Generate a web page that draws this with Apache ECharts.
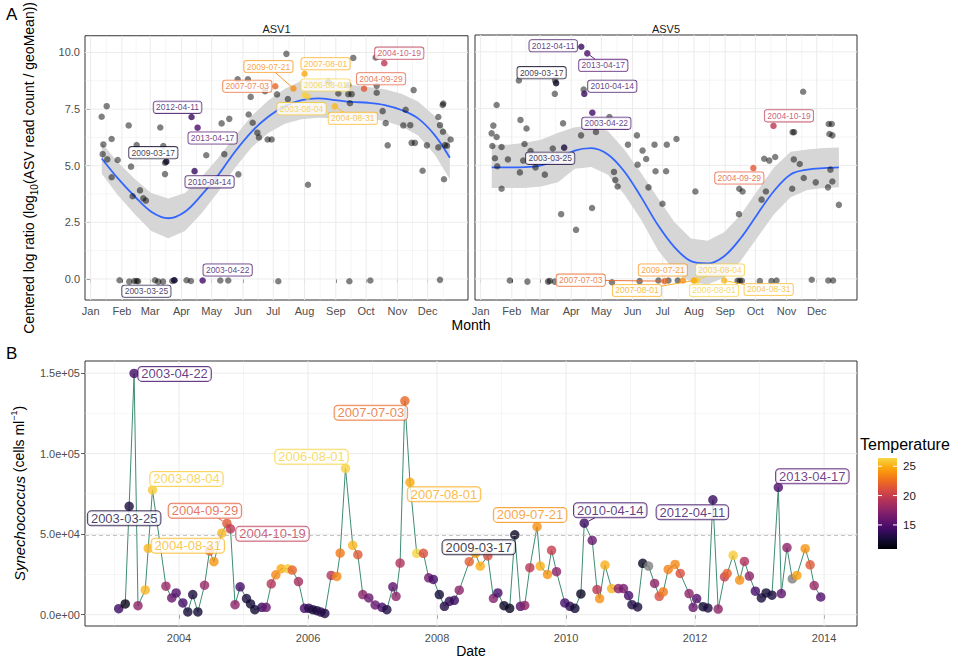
<!DOCTYPE html>
<html>
<head>
<meta charset="utf-8">
<script src="https://cdn.jsdelivr.net/npm/echarts@6/dist/echarts.min.js"></script>
<style>
html,body{margin:0;padding:0;background:#fff}
#chart{width:958px;height:662px}
</style>
</head>
<body>
<div id="chart"></div>
<script>
// ---------- axis ticks ----------
const monthNames = ['Jan','Feb','Mar','Apr','May','Jun','Jul','Aug','Sep','Oct','Nov','Dec'];
const monthStarts = [0,31,59,90,120,151,181,212,243,273,304,334];
const clrTicks = [0, 2.5, 5, 7.5, 10];
const cellTicks = [0, 50000, 100000, 150000];
const yearTicks = [2004, 2006, 2008, 2010, 2012, 2014];
const tempTicks = [15, 20, 25];

// ---------- panel A: ASV1 (day of year, centered log ratio) ----------
const asv1Day = [15.9,10.9,12.6,20.8,11.9,16.5,26.8,20.8,37.7,45.6,40,48.9,41.6,52.2,54.8,69,72,73.7,73.7,114.6,129.8,137.4,132.5,146.4,156.6,160.6,165.2,166.8,175.4,179.4,145.7,155.9,158.6,172.8,184.7,194,195.5,215.4,235.5,245.5,255.4,255.4,258.7,257,260.3,282.5,283.5,283.5,289.4,292.4,294.4,312.2,320.1,309.9,316.8,318.1,321.4,329,333.3,344.6,346.2,348.9,349.5,349.2,344.6,351.2,356.8,353.2,350.2,
  28.7,38.3,43.3,45.6,47,63.8,67,71.7,80.9,82.9,95.1,99.4,128.5,136.4,186,256.4,277.2,346.2];
const asv1Clr = [7.63,7.16,5.94,6.18,5.51,5.28,5.25,4.49,6.78,5.91,4.96,3.91,3.65,3.56,3.46,6.69,5.87,5.13,4.63,5.46,6.87,7.07,5.51,4.62,7.26,6.9,6.46,6.25,6.16,6.16,8.82,8.82,8.04,8.29,8.15,9.94,7.94,4.16,8.71,8.19,8.56,8.16,8.16,7.76,9.76,9.78,8.53,8.22,7.41,6.88,5.9,7.47,8.34,6.78,6.79,6.01,6.01,4.78,5.9,7.15,6.79,7.68,7.75,6.5,5.81,5.91,6.16,5.88,4.4,
  -0.06,-0.12,-0.09,-0.09,-0.1,-0.06,-0.12,-0.12,-0.09,-0.06,-0.06,-0.09,-0.07,-0.07,-0.1,-0.1,-0.07,-0.04];

// ---------- panel A: ASV5 ----------
const asv5Day = [15.9,12.6,10.9,15.9,11.6,20.8,14.2,16.5,27.1,20.8,39.6,45.6,38,43.6,42.3,39,49.6,54.5,63.8,71.7,73.7,74,81.9,80,94.8,99.8,102.4,114.6,110.7,128,132.5,133.8,136.1,146.4,155.3,156,160.9,164.5,166.8,172.8,173.8,180.7,185,184.3,194.6,213.4,256.7,257,260.3,279.2,283.5,281.8,286.8,292.7,310,311.5,320.5,311.2,309.6,317.1,321.1,333,345.9,348.9,346.6,349.5,347.6,349.5,345.2,356,
  29,46.5,67,68.7,73.6,130.5,158,176.7,186.6,195.9,255.3,257.5,259.6,277.5,289,294,329,345.5,350.2];
const asv5Clr = [7.66,6.75,6.41,6.25,5.85,5.81,5.31,4.96,5.26,3.97,7.0,6.62,8.74,5.94,5.21,4.69,5.63,4.91,4.59,5.74,8.15,8.74,6.85,2.85,2.16,6.32,8.34,6.47,3.12,7.13,4.71,4.35,4.07,5.91,6.32,5.03,5.65,5.28,4.03,5.91,4.74,3.31,5.91,4.74,6.16,3.85,2.85,3.97,3.85,3.49,3.85,5.29,5.21,5.37,6.46,6.46,8.24,5.26,3.97,5.06,4.44,4.25,6.82,6.82,6.38,6.32,4.81,4.29,4.03,3.26,
  -0.07,-0.12,-0.12,-0.09,-0.12,-0.15,-0.1,-0.07,-0.07,-0.07,-0.08,-0.08,-0.08,-0.1,-0.1,-0.07,-0.04,-0.07,-0.07];

// highlighted sampling dates and their values in each facet
const labelDates = ['2003-03-25','2003-04-22','2003-08-04','2004-08-31','2004-09-29','2004-10-19','2006-08-01','2007-07-03','2007-08-01','2009-03-17','2009-07-21','2010-04-14','2012-04-11','2013-04-17'];
const asv1LabelClr = [-0.06,-0.07,8.05,7.62,8.4,9.53,8.12,8.51,9.06,5.18,8.41,4.76,7.15,6.68];
const asv5LabelClr = [5.78,7.32,-0.07,-0.07,4.88,6.74,-0.07,-0.1,-0.07,8.62,-0.07,8.15,10.22,9.93];

// loess fit with its confidence band
const smoothDay = [11,27,44,60,77,93.5,110,126.5,143,159.5,176,192.5,209,225.5,242,258.5,275,291.5,308,324.5,341,356];
const asv1Fit = [5.32,4.44,3.63,2.97,2.68,2.97,3.71,4.59,5.62,6.5,7.16,7.63,7.9,7.97,7.9,7.82,7.78,7.68,7.46,7.09,6.35,5.35];
const asv1Lo  = [4.65,3.7,2.85,2.12,1.8,2.12,2.9,3.85,4.9,5.8,6.45,6.85,7.05,7.12,7.1,7.07,7.08,6.98,6.74,6.34,5.5,4.4];
const asv1Hi  = [6.0,5.15,4.4,3.8,3.55,3.8,4.5,5.35,6.3,7.2,7.88,8.4,8.75,8.82,8.7,8.57,8.48,8.38,8.18,7.84,7.2,6.3];
const asv5Fit = [4.91,4.91,4.92,5.0,5.27,5.65,5.76,5.48,4.72,3.6,2.38,1.4,0.78,0.68,1.0,1.8,2.85,3.87,4.6,4.81,4.88,4.91];
const asv5Lo  = [4.0,4.0,4.0,4.07,4.26,4.85,4.93,4.59,3.71,2.6,1.28,0.35,-0.15,-0.25,0.05,0.8,1.82,2.85,3.6,3.91,4.0,4.03];
const asv5Hi  = [5.91,5.91,5.99,6.13,6.44,6.68,6.76,6.51,5.69,4.66,3.57,2.5,1.78,1.68,2.05,2.82,3.88,4.9,5.6,5.7,5.76,5.79];

// ---------- panel B: Synechococcus abundance time series ----------
const sampleDates = ['2003-01-25','2003-03-03','2003-03-25','2003-04-22','2003-05-14','2003-06-24','2003-07-11','2003-08-04','2003-10-19','2003-11-21','2003-12-16',
 '2004-01-23','2004-02-20','2004-03-19','2004-04-17','2004-05-25','2004-06-22','2004-07-17','2004-08-31','2004-09-29','2004-10-19','2004-11-14','2004-12-13',
 '2005-01-18','2005-02-10','2005-03-06','2005-04-15','2005-05-09','2005-06-07','2005-07-03','2005-08-02','2005-09-09','2005-10-04','2005-11-08','2005-12-12',
 '2006-01-06','2006-01-28','2006-02-20','2006-03-15','2006-04-06','2006-05-12','2006-06-13','2006-07-02','2006-08-01','2006-09-11','2006-10-10','2006-11-07','2006-12-11',
 '2007-01-16','2007-02-24','2007-03-23','2007-04-26','2007-05-14','2007-06-06','2007-07-03','2007-08-01','2007-09-08','2007-10-16','2007-11-15','2007-12-11',
 '2008-01-14','2008-02-12','2008-03-11','2008-04-08','2008-05-06','2008-07-02','2008-08-06','2008-09-02','2008-10-15','2008-11-16','2008-12-11',
 '2009-01-15','2009-02-16','2009-03-17','2009-04-18','2009-05-12','2009-06-10','2009-07-21','2009-08-08','2009-09-18','2009-10-11','2009-11-08','2009-12-25',
 '2010-01-23','2010-02-20','2010-03-26','2010-04-14','2010-05-29','2010-06-25','2010-07-10','2010-08-09','2010-09-16','2010-10-24','2010-11-22','2010-12-21',
 '2011-01-09','2011-02-10','2011-03-11','2011-04-13','2011-05-17','2011-06-12','2011-07-05','2011-08-02','2011-09-10','2011-10-09','2011-11-28','2011-12-21',
 '2012-01-10','2012-02-15','2012-03-14','2012-04-11','2012-05-11','2012-06-16','2012-07-01','2012-08-04','2012-09-10','2012-10-07','2012-11-04','2012-12-08',
 '2013-01-11','2013-02-07','2013-03-12','2013-04-17','2013-05-04','2013-06-05','2013-07-05','2013-07-31','2013-09-16','2013-10-14','2013-11-06','2013-12-13'];
const synCells = [3750,6670,67300,149800,5600,15400,41250,77500,17700,10400,13500,
 7300,1700,12500,1700,18300,39600,32900,50600,56700,53300,6250,17300,
 10000,6670,3125,4580,4580,19160,24800,28540,28540,27700,20600,3960,
 3960,3125,2500,1670,830,24400,23750,38300,90900,43100,37300,12500,10400,
 6040,4580,3125,17300,11460,32100,132800,82200,38100,38100,22900,21900,
 12500,5200,8300,8960,15200,32900,38100,30200,36500,10200,13500,
 5600,4000,49600,5200,5800,29200,54700,30200,25000,40000,26700,7300,
 5200,4000,12900,56800,46200,15600,10000,30800,16250,16250,16250,11900,
 6250,4800,31900,30200,19400,11460,14200,28100,31250,25600,13100,4600,
 10000,5000,4170,71300,3540,23500,25600,36900,21500,33100,24000,14600,
 10400,13500,12100,79100,13100,41700,22300,24400,41000,31000,18100,11000];
const waterTemp = [14,11.5,12.8,14.3,17.5,25.3,25.3,26,18,16,15,
 14.3,12.5,12.8,12.5,18,22,24,25.3,21.5,19.5,17.5,14.5,
 12.8,12.5,12.3,14,16,19.2,23.5,24.8,26,22,18.5,14.5,
 13.5,13,12.5,13.5,13,19.2,23.5,23,26.2,25.2,21.5,17.5,16,
 16,14.5,13,15.5,17.5,19,22.2,24.8,26.3,21,16.3,14.5,
 12.5,13,13.5,14,17.5,21.8,24.5,25,21,17.2,14.5,
 12,11.8,12,15,17.5,19.5,23.8,25,24,20,17.5,14.5,
 13.5,12.5,11.8,14,16,19.5,23.8,25,25.3,17.5,16.5,14.5,
 13,12.8,11.8,null,17.5,21,23,23.3,23.5,21,17.5,16,
 15,12.5,12.8,14,17.5,20,22,26,23.8,19,17.5,14.5,
 12.8,12.5,12.8,14.8,15.5,17.5,null,24.5,24,21.5,18,15];
const meanCells = 49400;

// ---------- scales and layout ----------
const DAY_MIN = -5.6, DAY_MAX = 374;
const CLR_MIN = -0.93, CLR_MAX = 10.74;
const CELL_MIN = -7000, CELL_MAX = 157500;
const YEAR_MIN = 2002.543, YEAR_MAX = 2014.51;
const TEMP_MIN = 10.9, TEMP_MAX = 26.4;
const FONT = 'Liberation Sans, Arial, Helvetica, sans-serif';
const AXIS_TXT = '#4d4d4d';

// label nudges (px) for the repelled date tags, and which tags get a leader segment
const nudgeAsv1 = {'2003-03-25':[-28,11],'2003-04-22':[25,-10.5],'2003-08-04':[-6,12],'2004-08-31':[18,12],'2004-09-29':[17,-10],'2004-10-19':[15,-10],'2006-08-01':[21,-10],'2007-07-03':[-28,0],'2007-08-01':[21,-10],'2009-03-17':[-13,-9],'2009-07-21':[-25,-22],'2010-04-14':[15,10.7],'2012-04-11':[-14,-9.7],'2013-04-17':[15,10.3]};
const nudgeAsv5 = {'2003-03-25':[-14,10.7],'2003-04-22':[14,10.7],'2003-08-04':[23,-10.5],'2004-08-31':[44.5,9],'2004-09-29':[-14,10],'2004-10-19':[15.5,-10],'2006-08-01':[20,10],'2007-07-03':[-84,-1],'2007-08-01':[-57,10],'2009-03-17':[-14.5,-10.5],'2009-07-21':[-20,-10.5],'2010-04-14':[28,-7.5],'2012-04-11':[-28,-1],'2013-04-17':[16,12]};
const nudgeSyn = {'2003-03-25':[-5,12],'2003-04-22':[40.5,0.5],'2003-08-04':[34,-11],'2004-08-31':[-34,12.5],'2004-09-29':[-22,-12.6],'2004-10-19':[42,5],'2006-08-01':[-34,-11.6],'2007-07-03':[-34,12],'2007-08-01':[34,12],'2009-03-17':[-36,12.5],'2009-07-21':[-7,-11.7],'2010-04-14':[26,-13],'2012-04-11':[-20.5,12.5],'2013-04-17':[34,-11]};
const leadAsv1 = ['2009-07-21','2004-08-31'];
const leadAsv5 = ['2007-07-03','2007-08-01','2003-08-04','2004-08-31','2013-04-17'];
const leadSyn = ['2004-09-29','2010-04-14'];

// inferno colour ramp (0 .. 0.9)
const inferno = ['#000004','#160b39','#420a68','#6a176e','#932667','#bc3754','#dd513a','#f37819','#fca50a','#f6d746'];
function hexRgb(h){return [1,3,5].map(i=>parseInt(h.slice(i,i+2),16));}
function tempColor(t){
  if (t == null) return '#7f7f7f';
  let f = (t - TEMP_MIN) / (TEMP_MAX - TEMP_MIN);
  f = Math.max(0, Math.min(1, f)) * (inferno.length - 1);
  const i = Math.min(inferno.length - 2, Math.floor(f)), r = f - i;
  const a = hexRgb(inferno[i]), b = hexRgb(inferno[i+1]);
  return 'rgb(' + a.map((v,k)=>Math.round(v + (b[k]-v)*r)).join(',') + ')';
}
function yday(s){return monthStarts[+s.slice(5,7)-1] + (+s.slice(8,10)) - 1;}
function tempOf(s){return waterTemp[sampleDates.indexOf(s)];}
// calendar date -> fractional year
function decYear(s){
  const p = s.split('-'), y = +p[0];
  const t0 = Date.UTC(y,0,1), t1 = Date.UTC(y+1,0,1), t = Date.UTC(y, +p[1]-1, +p[2]);
  return y + (t - t0) / (t1 - t0);
}
function sci(v){
  if (v === 0) return '0.0e+00';
  const e = Math.floor(Math.log10(Math.abs(v)) + 1e-9);
  return (v / Math.pow(10, e)).toFixed(1) + 'e+' + String(e).padStart(2, '0');
}
function mids(arr, last){return arr.map((v,i)=>(v + (i < arr.length-1 ? arr[i+1] : last)) / 2);}

// background grid lines drawn through each panel's own scales
function vLines(g, values, y0, y1, w){
  return {type:'custom', xAxisIndex:g, yAxisIndex:g, silent:true, z:1, clip:true,
    data: values.map(v=>[v, y0]),
    renderItem(p, api){
      const a = api.coord([api.value(0), y0]), b = api.coord([api.value(0), y1]);
      return {type:'line', shape:{x1:a[0],y1:a[1],x2:b[0],y2:b[1]}, style:{stroke:'#ebebeb', lineWidth:w}};
    }};
}
function hLines(g, values, x0, x1, w){
  return {type:'custom', xAxisIndex:g, yAxisIndex:g, silent:true, z:1, clip:true,
    data: values.map(v=>[x0, v]),
    renderItem(p, api){
      const a = api.coord([x0, api.value(1)]), b = api.coord([x1, api.value(1)]);
      return {type:'line', shape:{x1:a[0],y1:a[1],x2:b[0],y2:b[1]}, style:{stroke:'#ebebeb', lineWidth:w}};
    }};
}
function band(g, xs, lo, hi){
  return {type:'custom', xAxisIndex:g, yAxisIndex:g, silent:true, z:2, clip:true,
    data:[[xs[0], lo[0]]],
    renderItem(p, api){
      const pts = [];
      xs.forEach((x,i)=>pts.push(api.coord([x, hi[i]])));
      for (let i = xs.length-1; i >= 0; i--) pts.push(api.coord([xs[i], lo[i]]));
      return {type:'polygon', shape:{points:pts}, style:{fill:'#d6d6d6'}};
    }};
}
function fitLine(g, xs, ys){
  return {type:'line', xAxisIndex:g, yAxisIndex:g, z:3, silent:true, showSymbol:false, smooth:0.35,
    data: xs.map((x,i)=>[x, ys[i]]), lineStyle:{color:'#3366ff', width:1.8}};
}
function greyPoints(g, xs, ys){
  return {type:'scatter', xAxisIndex:g, yAxisIndex:g, z:4, silent:true, symbolSize:6.5,
    data: xs.map((x,i)=>[x, ys[i]]), itemStyle:{color:'rgba(0,0,0,0.62)'}};
}
function taggedPoints(g, vals, nudge){
  return {type:'scatter', xAxisIndex:g, yAxisIndex:g, z:5, silent:true, symbolSize:6.5,
    data: labelDates.map((d,i)=>{
      const c = tempColor(tempOf(d));
      return {name:d, value:[yday(d), vals[i]], itemStyle:{color:c}, label:{color:c, borderColor:c}};
    }),
    label:{show:true, position:'inside', formatter:'{b}', fontSize:8.5, fontFamily:FONT,
      backgroundColor:'#fff', borderWidth:0.8, borderRadius:2.5, padding:[1.5,2.5,1,2.5]},
    labelLayout(p){const o = nudge[labelDates[p.dataIndex]]; return o ? {dx:o[0], dy:o[1]} : {};}
  };
}
// leader segments: from the point toward its tag centre, stopping at the tag edge
function leaders(g, dates, xs, ys, nudge, halfW, halfH, r){
  return {type:'custom', xAxisIndex:g, yAxisIndex:g, silent:true, z:5, clip:false,
    data: dates.map((d,i)=>[xs[i], ys[i]]),
    renderItem(p, api){
      const d = dates[p.dataIndex], o = nudge[d], pt = api.coord([api.value(0), api.value(1)]);
      const vx = -o[0], vy = -o[1], len = Math.hypot(vx, vy);
      const s = Math.min(Math.abs(vx) > 0 ? halfW/Math.abs(vx) : 1e9, Math.abs(vy) > 0 ? halfH/Math.abs(vy) : 1e9);
      const cx = pt[0] + o[0], cy = pt[1] + o[1];
      const ex = cx + s*vx, ey = cy + s*vy;
      const sx = pt[0] - vx/len*r, sy = pt[1] - vy/len*r;
      return {type:'polyline', shape:{points:[[sx, sy], [ex, ey]]}, style:{stroke:tempColor(tempOf(d)), lineWidth:0.9, fill:null}};
    }};
}
function leaderSet(g, list, vals, nudge){
  return leaders(g, list, list.map(d=>yday(d)), list.map(d=>vals[labelDates.indexOf(d)]), nudge, 24.3, 6, 3.3);
}

const monthMinor = mids(monthStarts, 365);
const clrMinor = mids(clrTicks, 12.5);
const cellMinor = mids(cellTicks, 200000);
const yearMinor = yearTicks.map(y=>y-1);

function monthAxis(g){
  return {gridIndex:g, type:'value', min:DAY_MIN, max:DAY_MAX,
    axisLine:{show:false}, splitLine:{show:false},
    axisTick:{show:true, customValues:monthStarts, length:4, lineStyle:{color:'#333', width:0.8}},
    axisLabel:{customValues:monthStarts, formatter:v=>monthNames[monthStarts.indexOf(v)], color:AXIS_TXT, fontSize:11, margin:5, fontFamily:FONT}};
}
function clrAxis(g, first){
  return {gridIndex:g, type:'value', min:CLR_MIN, max:CLR_MAX,
    axisLine:{show:false}, splitLine:{show:false},
    axisTick:{show:first, customValues:clrTicks, length:4, lineStyle:{color:'#333', width:0.8}},
    axisLabel:{show:first, customValues:clrTicks, formatter:v=>v.toFixed(1), color:AXIS_TXT, fontSize:11, margin:5, fontFamily:FONT},
    name: first ? 'Centered log ratio (log{sub|10}(ASV read count / geoMean))' : '',
    nameLocation:'middle', nameGap:46, nameRotate:90,
    nameTextStyle:{fontSize:14, color:'#000', lineHeight:20, fontFamily:FONT,
      rich:{sub:{fontSize:10, lineHeight:10, verticalAlign:'bottom', fontFamily:FONT, color:'#000'}}}};
}

const panelBorder = {show:true, borderColor:'#333', borderWidth:1, backgroundColor:'#fff'};

const synPoints = sampleDates.map((d,i)=>{
  const c = tempColor(waterTemp[i]);
  const item = {name:d, value:[decYear(d), synCells[i]], itemStyle:{color:c}};
  if (nudgeSyn[d]) item.label = {show:true, color:c, borderColor:c};
  return item;
});

// colour bar legend
const barX = 878, barY = 458, barW = 19, barH = 91;
const barStops = [];
for (let k = 0; k <= 20; k++) barStops.push({offset:k/20, color:tempColor(TEMP_MIN + (TEMP_MAX-TEMP_MIN)*k/20)});
const legendGraphics = [
  {type:'text', left:860, top:436, style:{text:'Temperature', fontSize:16, fill:'#000', fontFamily:FONT}},
  {type:'rect', shape:{x:barX, y:barY, width:barW, height:barH},
    style:{fill:{type:'linear', x:0, y:1, x2:0, y2:0, colorStops:barStops}}}
];
tempTicks.forEach(t=>{
  const y = barY + barH * (1 - (t - TEMP_MIN) / (TEMP_MAX - TEMP_MIN));
  legendGraphics.push({type:'line', shape:{x1:barX, y1:y, x2:barX+4, y2:y}, style:{stroke:'#fff', lineWidth:1}});
  legendGraphics.push({type:'line', shape:{x1:barX+barW-4, y1:y, x2:barX+barW, y2:y}, style:{stroke:'#fff', lineWidth:1}});
  legendGraphics.push({type:'text', x:903, y:y, style:{text:String(t), fontSize:11.5, fill:'#1a1a1a', fontFamily:FONT, verticalAlign:'middle'}});
});

const option = {
  animation:false,
  textStyle:{fontFamily:FONT},
  grid:[
    Object.assign({left:85, top:35, width:383, height:265}, panelBorder),
    Object.assign({left:475, top:35, width:382, height:265}, panelBorder),
    Object.assign({left:85, top:361, width:772, height:265}, panelBorder)
  ],
  xAxis:[
    monthAxis(0), monthAxis(1),
    {gridIndex:2, type:'value', min:YEAR_MIN, max:YEAR_MAX,
      axisLine:{show:false}, splitLine:{show:false},
      axisTick:{show:true, customValues:yearTicks, length:4, lineStyle:{color:'#333', width:0.8}},
      axisLabel:{customValues:yearTicks, formatter:v=>String(v), color:AXIS_TXT, fontSize:11, margin:6, fontFamily:FONT},
      name:'Date', nameLocation:'middle', nameGap:18, nameTextStyle:{fontSize:14, color:'#000', fontFamily:FONT}}
  ],
  yAxis:[
    clrAxis(0, true), clrAxis(1, false),
    {gridIndex:2, type:'value', min:CELL_MIN, max:CELL_MAX,
      axisLine:{show:false}, splitLine:{show:false},
      axisTick:{show:true, customValues:cellTicks, length:4, lineStyle:{color:'#333', width:0.8}},
      axisLabel:{customValues:cellTicks, formatter:sci, color:AXIS_TXT, fontSize:11, margin:5, fontFamily:FONT},
      name:'{i|Synechococcus} (cells ml{sup|\u22121})', nameLocation:'middle', nameGap:48, nameRotate:90,
      nameTextStyle:{fontSize:14, color:'#000', lineHeight:20, fontFamily:FONT,
        rich:{i:{fontStyle:'italic', fontSize:15, fontFamily:FONT, color:'#000'},
              sup:{fontSize:9, lineHeight:9, verticalAlign:'top', fontFamily:FONT, color:'#000'}}}}
  ],
  graphic: [
    {type:'text', left:6, top:6, style:{text:'A', fontSize:17, fill:'#000', fontFamily:FONT}},
    {type:'text', left:6, top:345, style:{text:'B', fontSize:17, fill:'#000', fontFamily:FONT}},
    {type:'text', x:276.5, y:29, style:{text:'ASV1', fontSize:11, fill:'#1a1a1a', fontFamily:FONT, align:'center', verticalAlign:'middle'}},
    {type:'text', x:666, y:29, style:{text:'ASV5', fontSize:11, fill:'#1a1a1a', fontFamily:FONT, align:'center', verticalAlign:'middle'}},
    {type:'text', x:471, y:325, style:{text:'Month', fontSize:14, fill:'#000', fontFamily:FONT, align:'center', verticalAlign:'middle'}}
  ].concat(legendGraphics),
  series:[
    // ASV1
    vLines(0, monthMinor, CLR_MIN, CLR_MAX, 0.5), hLines(0, clrMinor, DAY_MIN, DAY_MAX, 0.5),
    vLines(0, monthStarts, CLR_MIN, CLR_MAX, 1), hLines(0, clrTicks, DAY_MIN, DAY_MAX, 1),
    band(0, smoothDay, asv1Lo, asv1Hi), fitLine(0, smoothDay, asv1Fit),
    greyPoints(0, asv1Day, asv1Clr), leaderSet(0, leadAsv1, asv1LabelClr, nudgeAsv1),
    taggedPoints(0, asv1LabelClr, nudgeAsv1),
    // ASV5
    vLines(1, monthMinor, CLR_MIN, CLR_MAX, 0.5), hLines(1, clrMinor, DAY_MIN, DAY_MAX, 0.5),
    vLines(1, monthStarts, CLR_MIN, CLR_MAX, 1), hLines(1, clrTicks, DAY_MIN, DAY_MAX, 1),
    band(1, smoothDay, asv5Lo, asv5Hi), fitLine(1, smoothDay, asv5Fit),
    greyPoints(1, asv5Day, asv5Clr), leaderSet(1, leadAsv5, asv5LabelClr, nudgeAsv5),
    taggedPoints(1, asv5LabelClr, nudgeAsv5),
    // Synechococcus time series
    vLines(2, yearMinor, CELL_MIN, CELL_MAX, 0.5), hLines(2, cellMinor, YEAR_MIN, YEAR_MAX, 0.5),
    vLines(2, yearTicks, CELL_MIN, CELL_MAX, 1), hLines(2, cellTicks, YEAR_MIN, YEAR_MAX, 1),
    {type:'line', xAxisIndex:2, yAxisIndex:2, z:3, silent:true, showSymbol:false,
      data: sampleDates.map((d,i)=>[decYear(d), synCells[i]]), lineStyle:{color:'#3d8c73', width:1},
      markLine:{silent:true, symbol:'none', label:{show:false},
        lineStyle:{type:[4,3], color:'#b5b5b5', width:0.8}, data:[{yAxis:meanCells}]}},
    leaders(2, leadSyn, leadSyn.map(d=>decYear(d)), leadSyn.map(d=>synCells[sampleDates.indexOf(d)]), nudgeSyn, 36.5, 7.8, 4.8),
    {type:'scatter', xAxisIndex:2, yAxisIndex:2, z:4, silent:true, symbolSize:9.5, data:synPoints,
      label:{show:false, position:'inside', formatter:'{b}', fontSize:13, fontFamily:FONT,
        backgroundColor:'#fff', borderWidth:1, borderRadius:3.5, padding:[1,3,0,3]},
      labelLayout(p){const o = nudgeSyn[sampleDates[p.dataIndex]]; return o ? {dx:o[0], dy:o[1]} : {};}}
  ]
};

const chart = echarts.init(document.getElementById('chart'), null, {renderer:'svg', width:958, height:662});
chart.setOption(option);
</script>
</body>
</html>
